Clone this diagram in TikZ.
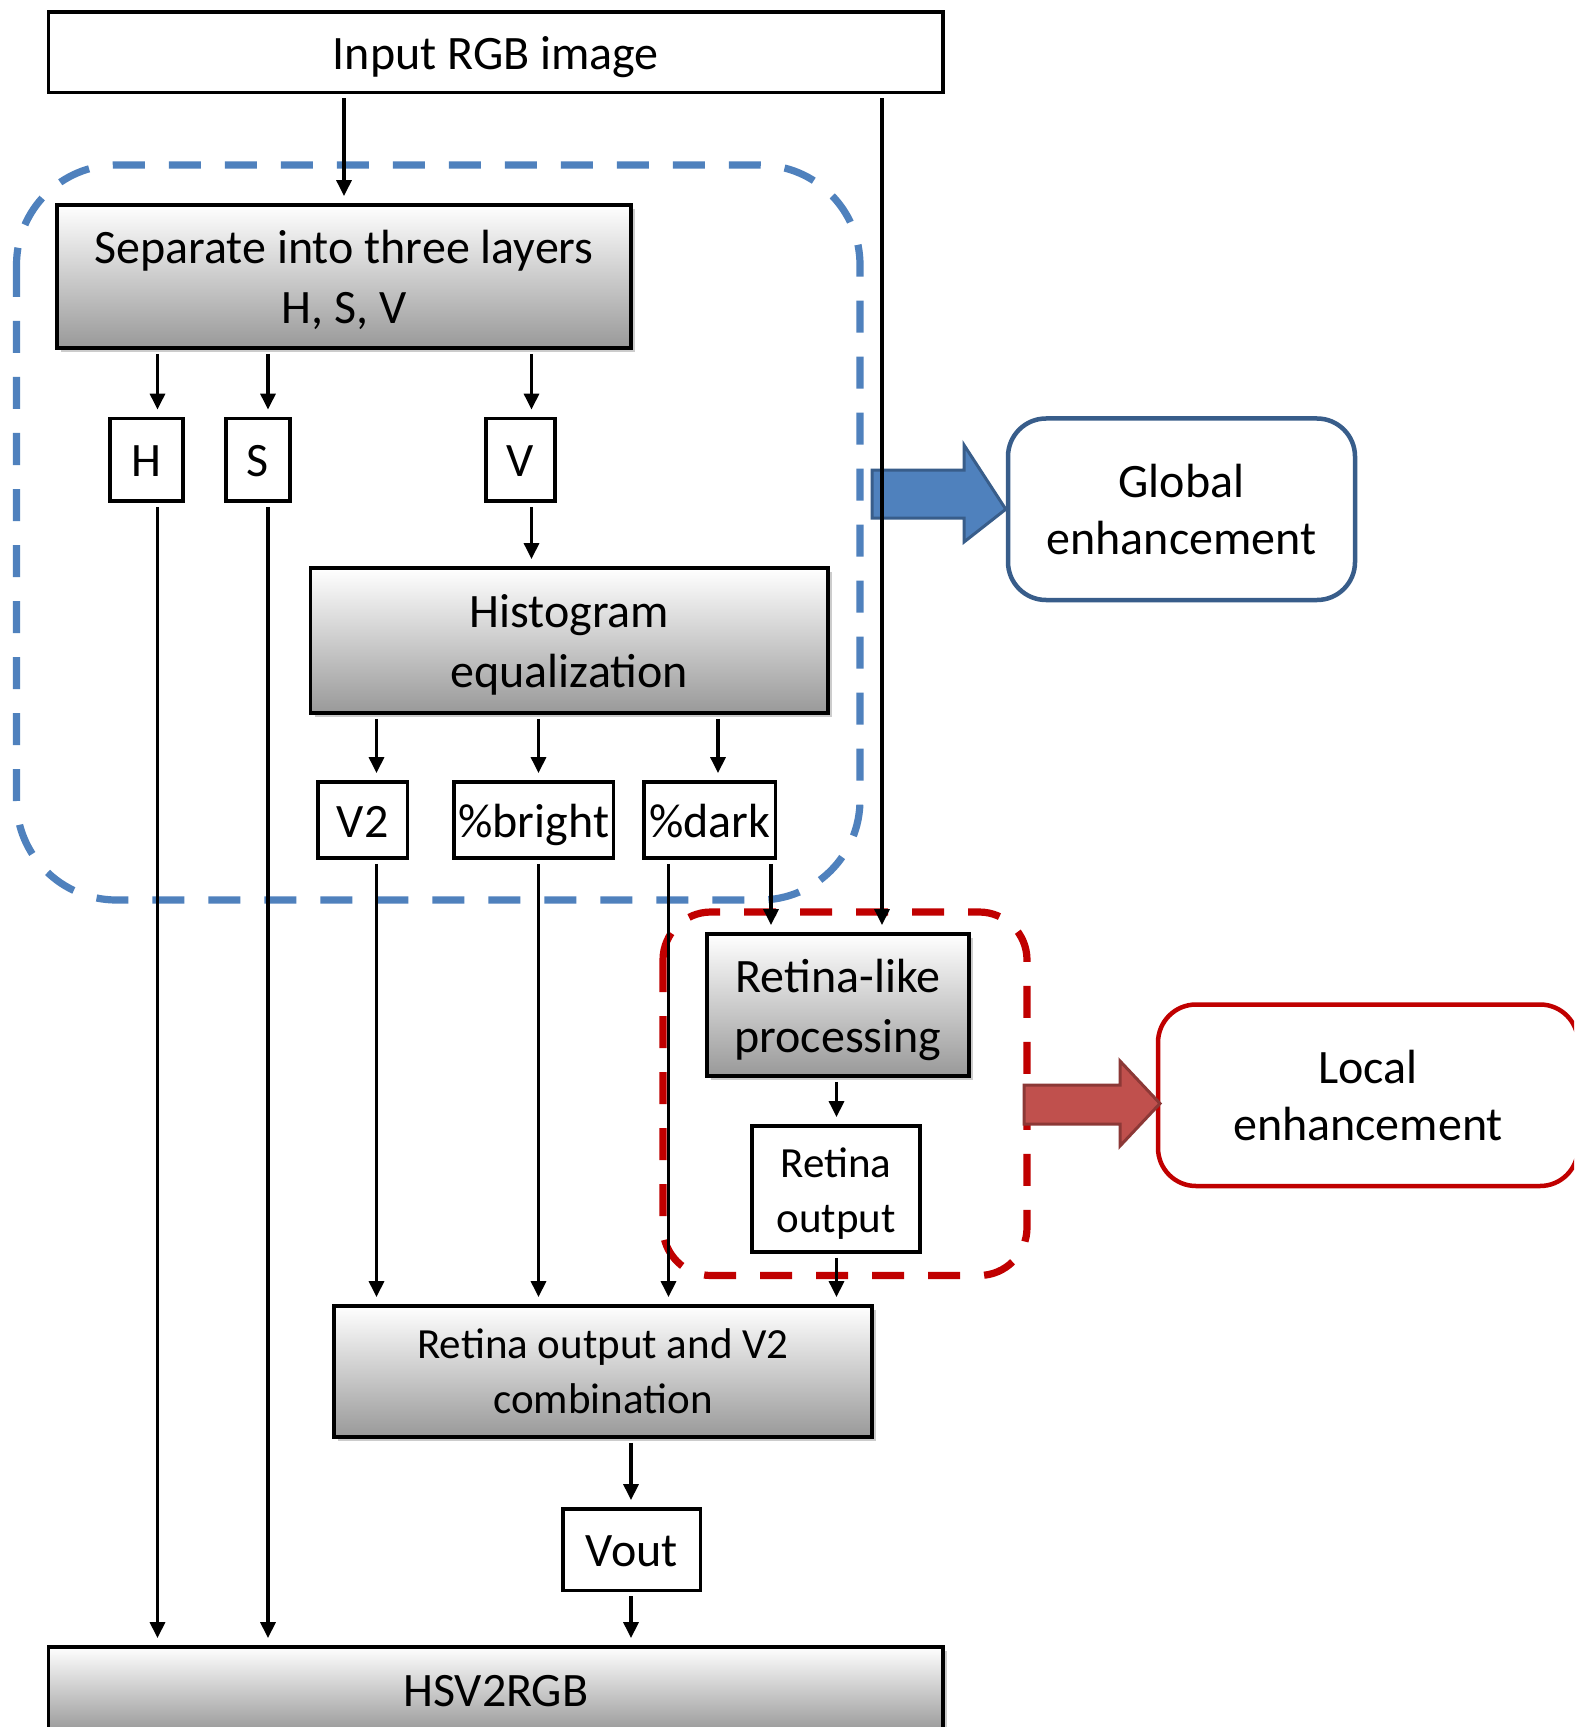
\documentclass[tikz,border=0pt]{standalone}
\usepackage{fontspec}
\setmainfont{Carlito}
\usetikzlibrary{arrows.meta,shadows}
\definecolor{blueD}{HTML}{4F81BD}
\definecolor{blueE}{HTML}{385D8A}
\definecolor{redD}{HTML}{C00000}
\definecolor{redF}{HTML}{C0504D}
\definecolor{redE}{HTML}{8C3836}
\newcommand\Tup[1]{\rule{0pt}{#1}}
\newcommand\Tdn[1]{\rule[-#1]{0pt}{0pt}}
\begin{document}
\begin{tikzpicture}[x=0.5pt,y=-0.5pt,
  box/.style={draw, line width=1.9pt, fill=white, inner sep=0pt, align=center,
    font=\fontsize{24}{30}\selectfont},
  smallfont/.style={font=\fontsize{21.5}{27.5}\selectfont},
  grad/.style={box, top color=white, bottom color=black!40,
    drop shadow={shadow xshift=2pt, shadow yshift=-2pt, fill=black!20, opacity=1}},
  arr/.style={line width=1.6pt, -{Triangle[length=8pt,width=7.5pt]},
    shorten >=3.5pt, shorten <=2pt},
  grp/.style={line width=3.6pt, rounded corners=#1, dash pattern=on 16pt off 12pt},
  lab/.style={draw, line width=2.25pt, fill=white, rounded corners=19pt, inner sep=0pt,
    align=center, font=\fontsize{24}{28.5}\selectfont}
]
\useasboundingbox (0,0) rectangle (1574,1727);
\clip (0,0) rectangle (1574,1727);
\fill[white] (0,0) rectangle (1574,1727);

% group frames
\draw[grp=50pt, blueD] (16.5,165) rectangle (860,900);
\draw[grp=24pt, redD] (663,912) rectangle (1027,1275.5);

% nodes
\node[box, minimum width=447.25pt, minimum height=40.25pt] (inp) at (495.75,52.25) {\Tup{22pt}Input RGB image\Tdn{5pt}};
\node[grad, minimum width=287pt, minimum height=71.5pt] (sep) at (344,276.5) {\Tup{20.5pt}Separate into three layers\\H, S, V};
\node[box, minimum width=36.5pt, minimum height=41.25pt] (H) at (146.5,459.75) {\Tup{22pt}H\Tdn{5pt}};
\node[box, minimum width=32pt, minimum height=41.25pt] (S) at (258,459.75) {\Tup{22pt}S\Tdn{5pt}};
\node[box, minimum width=34.5pt, minimum height=41.25pt] (V) at (520.5,459.75) {\Tup{22pt}V\Tdn{5pt}};
\node[grad, minimum width=258.75pt, minimum height=72.5pt] (hist) at (569.25,640.5) {\Tup{20.5pt}Histogram\\equalization};
\node[box, minimum width=44.75pt, minimum height=38pt] (V2) at (362.75,820) {\Tup{22pt}V2\Tdn{5pt}};
\node[box, minimum width=79.75pt, minimum height=38pt] (bright) at (533.75,820) {\Tup{22pt}\%bright\Tdn{5pt}};
\node[box, minimum width=65.75pt, minimum height=38pt] (dark) at (709.75,820) {\Tup{22pt}\%dark\Tdn{5pt}};
\node[grad, minimum width=131pt, minimum height=71pt] (retl) at (838,1005) {\Tup{21.5pt}Retina-like\\processing};
\node[box, smallfont, minimum width=84pt, minimum height=63pt] (reto) at (836,1189) {\Tup{19pt}Retina\\output};
\node[grad, smallfont, minimum width=269pt, minimum height=65.5pt] (comb) at (603,1371.5) {Retina output and V2\\combination};
\node[box, minimum width=68.75pt, minimum height=40.75pt] (vout) at (631.75,1549.75) {\Tup{22pt}Vout\Tdn{5pt}};
\node[grad, minimum width=447.25pt, minimum height=42.5pt] (hsv) at (495.75,1689.5) {\Tup{22pt}HSV2RGB\Tdn{5pt}};

\node[lab, draw=blueE, minimum width=173.5pt, minimum height=90.75pt] (glob) at (1181.5,509.25) {Global\\enhancement};
\node[lab, draw=redD, minimum width=210pt, minimum height=90.75pt] (loc) at (1368,1095.25) {Local\\enhancement};

% block arrows
\draw[line width=1.5pt, draw=blueE, fill=blueD, line join=miter]
  (872,470) -- (964,470) -- (964,445) -- (glob.west) -- (964,542) -- (964,518) -- (872,518) -- cycle;
\draw[line width=1.5pt, draw=redE, fill=redF, line join=miter]
  (1024,1085) -- (1120,1085) -- (1120,1061) -- (1160,1103.5) -- (1120,1146) -- (1120,1124) -- (1024,1124) -- cycle;

% x positions of connectors
\coordinate (xH) at (157.5,0);
\coordinate (xS) at (268,0);
\coordinate (xV) at (531.5,0);
\coordinate (xV2) at (376.5,0);
\coordinate (xB) at (538.5,0);
\coordinate (xDk) at (718,0);
\coordinate (xDl) at (668.5,0);
\coordinate (xDr) at (771,0);
\coordinate (xR) at (882,0);
\coordinate (xRo) at (836.5,0);
\coordinate (xO) at (631,0);

% connectors
\draw[arr] (inp.south -| sep.north) -- (sep.north);
\draw[arr] (inp.south -| xR) -- (retl.north -| xR);
\draw[arr] (sep.south -| xH) -- (H.north -| xH);
\draw[arr] (sep.south -| xS) -- (S.north -| xS);
\draw[arr] (sep.south -| xV) -- (V.north -| xV);
\draw[arr] (V.south -| xV) -- (hist.north -| xV);
\draw[arr] (hist.south -| xV2) -- (V2.north -| xV2);
\draw[arr] (hist.south -| xB) -- (bright.north -| xB);
\draw[arr] (hist.south -| xDk) -- (dark.north -| xDk);
\draw[arr] (H.south -| xH) -- (hsv.north -| xH);
\draw[arr] (S.south -| xS) -- (hsv.north -| xS);
\draw[arr] (V2.south -| xV2) -- (comb.north -| xV2);
\draw[arr] (bright.south -| xB) -- (comb.north -| xB);
\draw[arr] (dark.south -| xDl) -- (comb.north -| xDl);
\draw[arr] (dark.south -| xDr) -- (retl.north -| xDr);
\draw[arr] (retl.south -| xRo) -- (reto.north -| xRo);
\draw[arr] (reto.south -| xRo) -- (comb.north -| xRo);
\draw[arr] (comb.south -| xO) -- (vout.north -| xO);
\draw[arr] (vout.south -| xO) -- (hsv.north -| xO);
\end{tikzpicture}
\end{document}
